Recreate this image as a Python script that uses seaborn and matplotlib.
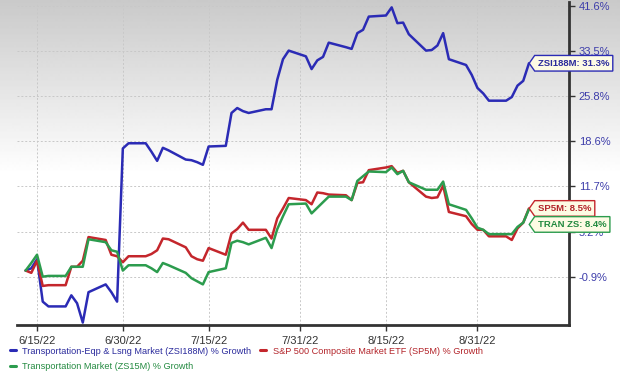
import matplotlib
matplotlib.use("Agg")
import matplotlib.pyplot as plt
import numpy as np
import pandas as pd
import seaborn as sns
from matplotlib.lines import Line2D
from matplotlib.path import Path
from matplotlib.ticker import NullLocator, NullFormatter

# trading days 6/13/22 - 9/9/22 (holidays repeat previous close)
dates = pd.bdate_range("2022-06-13", "2022-09-09")

zsi188m = [
    0.0, 0.3, 1.5, -4.0, -4.6, -4.6, -3.2, -4.2, -6.6, -2.8, -1.8, -2.8, -4.0, 17.4,
    18.2, 18.2, 16.9, 15.5, 17.5, 17.1, 15.7, 15.6, 15.3, 14.9, 17.7, 17.8, 23.0,
    23.8, 23.3, 23.0, 23.6, 23.6, 28.5, 32.0, 33.5,
    32.5, 30.3, 31.8, 32.4, 34.9, 34.1, 33.8, 36.6, 37.2, 39.6, 39.8, 41.3, 38.4,
    38.5, 36.4, 33.5, 33.6, 34.4, 36.6, 32.0, 31.0, 29.3, 27.1,
    26.2, 25.0, 25.0, 25.6, 27.5, 28.3, 31.3,
]
sp5m = [
    0.0, -0.3, 1.3, -2.0, -1.9, -1.9, 0.5, 0.5, 1.3, 4.5, 4.1, 2.1, 1.9, 1.1,
    1.9, 1.9, 2.2, 2.7, 4.3, 4.2, 3.1, 1.9, 1.5, 1.3, 3.0, 2.1, 5.0, 5.6, 6.5,
    5.5, 5.5, 4.3, 7.1, 8.5, 10.0,
    9.7, 9.1, 10.8, 10.7, 10.5, 10.4, 9.7, 12.2, 12.3, 14.1, 14.5, 14.7, 13.7,
    14.0, 12.3, 10.2, 10.0, 10.1, 11.8, 8.0, 7.4, 6.3, 5.5,
    5.5, 4.6, 4.6, 4.1, 5.7, 6.5, 8.5,
]
zs15m = [
    0.0, 1.0, 2.1, -0.8, -0.7, -0.7, 0.5, 0.5, 0.5, 4.2, 3.8, 2.7, 2.5, 0.0,
    0.7, 0.7, 0.3, -0.2, 1.0, 0.7, -0.3, -1.0, -1.4, -1.8, -0.2, 0.3, 3.7, 4.0,
    3.8, 3.5, 4.4, 3.0, 5.6, 7.4, 9.1,
    9.2, 7.8, 8.6, 9.4, 10.2, 10.2, 9.7, 12.5, 13.2, 13.9, 13.8, 14.5, 13.5,
    14.0, 12.3, 11.2, 11.2, 11.2, 12.4, 9.1, 8.3, 7.1, 5.8,
    5.5, 4.9, 4.9, 4.9, 5.9, 6.5, 8.4,
]

series_names = [
    "Transportation-Eqp & Lsng Market (ZSI188M) % Growth",
    "S&P 500 Composite Market ETF (SP5M) % Growth",
    "Transportation Market (ZS15M) % Growth",
]
short_names = ["ZSI188M", "SP5M", "TRAN ZS"]
line_colors = ["#2b2bb5", "#c4262c", "#2c9c4e"]
text_colors = ["#2a2a9c", "#b3242a", "#238a40"]

ytick_vals = [41.6, 33.5, 25.8, 18.6, 11.7, 5.2, -0.9]
ytick_labels = ["41.6%", "33.5%", "25.8%", "18.6%", "11.7%", "5.2%", "-0.9%"]
xtick_dates = ["2022-06-15", "2022-06-30", "2022-07-15", "2022-07-31", "2022-08-15", "2022-08-31"]
xtick_labels = ["6/15/22", "6/30/22", "7/15/22", "7/31/22", "8/15/22", "8/31/22"]

df = pd.DataFrame({
    "date": np.tile(dates, 3),
    "growth": zsi188m + sp5m + zs15m,
    "series": np.repeat(series_names, len(dates)),
})
# chart uses a log scale of the growth factor
df["factor"] = 1 + df["growth"] / 100

sns.set_style("white")
plt.rcParams["font.family"] = ["Liberation Sans", "DejaVu Sans"]

fig = plt.figure(figsize=(6.2, 3.74), dpi=100)

# grey-to-white background gradient
bg = fig.add_axes([0, 0, 1, 1], zorder=0)
grad = np.ones((374, 1))
grad[:175, 0] = np.linspace(0.79, 1.0, 175)
bg.imshow(grad, cmap="gray", vmin=0, vmax=1, aspect="auto", extent=[0, 1, 0, 1])
bg.axis("off")

ax = fig.add_axes([17 / 620, 49 / 374, 552 / 620, 323 / 374], zorder=1)
ax.patch.set_alpha(0)

sns.lineplot(data=df, x="date", y="factor", hue="series", hue_order=series_names,
             palette=line_colors, linewidth=1.8, ax=ax, legend=False)

ax.set_yscale("log")
ax.set_ylim(0.931, 1.423)
ax.set_yticks([1 + v / 100 for v in ytick_vals])
ax.set_yticklabels(ytick_labels)
ax.yaxis.set_minor_locator(NullLocator())
ax.yaxis.set_minor_formatter(NullFormatter())
ax.yaxis.tick_right()
ax.set_xlim(pd.Timestamp("2022-06-11 12:00"), pd.Timestamp("2022-09-16"))
ax.set_xticks(pd.to_datetime(xtick_dates))
ax.set_xticklabels(xtick_labels)
ax.set_xlabel("")
ax.set_ylabel("")

ax.tick_params(axis="y", right=True, length=4, width=1, color="#333333",
               labelsize=8, labelcolor="#3d3daa", pad=3)
ax.tick_params(axis="x", bottom=True, length=4, width=1, color="#333333",
               labelsize=8, labelcolor="#333333", pad=4)
ax.grid(True, color="#c8c8c8", linestyle=(0, (2, 2)), linewidth=0.7)

for side in ["left", "top"]:
    ax.spines[side].set_visible(False)
for side in ["bottom", "right"]:
    ax.spines[side].set_color("#333333")
    ax.spines[side].set_linewidth(2)


def tag_box(x0, y0, width, height, mutation_size):
    pad = 0.35 * mutation_size
    x0, y0 = x0 - pad, y0 - pad
    width, height = width + 2 * pad, height + 2 * pad
    tip = height * 0.35
    verts = [(x0 - tip, y0 + height / 2), (x0, y0 + height), (x0 + width, y0 + height),
             (x0 + width, y0), (x0, y0), (x0 - tip, y0 + height / 2)]
    return Path(verts, closed=True)


last_vals = [zsi188m[-1], sp5m[-1], zs15m[-1]]
offsets = [0, 0, -11]
for name, val, lc, tc, dy in zip(short_names, last_vals, line_colors, text_colors, offsets):
    ax.annotate(f"{name}: {val:.1f}%", xy=(dates[-1], 1 + val / 100),
                xytext=(6.5, dy), textcoords="offset points", ha="left", va="center",
                fontsize=6.8, fontweight="bold", color=tc, zorder=5,
                annotation_clip=False,
                bbox=dict(boxstyle=tag_box, fc="#fdfbe4", ec=lc, lw=1))

handles = [Line2D([], [], color=line_colors[i], lw=2.2) for i in (0, 2, 1)]
labels = [series_names[i] for i in (0, 2, 1)]
leg = fig.legend(handles, labels, ncol=2, loc="upper left",
                 bbox_to_anchor=(0.008, 1 - 342 / 374), frameon=False,
                 handlelength=0.7, handletextpad=0.7, columnspacing=0.9,
                 borderpad=0, labelspacing=0.75, prop={"size": 6.6})
for txt, c in zip(leg.get_texts(), [text_colors[0], text_colors[2], text_colors[1]]):
    txt.set_color(c)

fig.savefig("out.png", dpi=100)
